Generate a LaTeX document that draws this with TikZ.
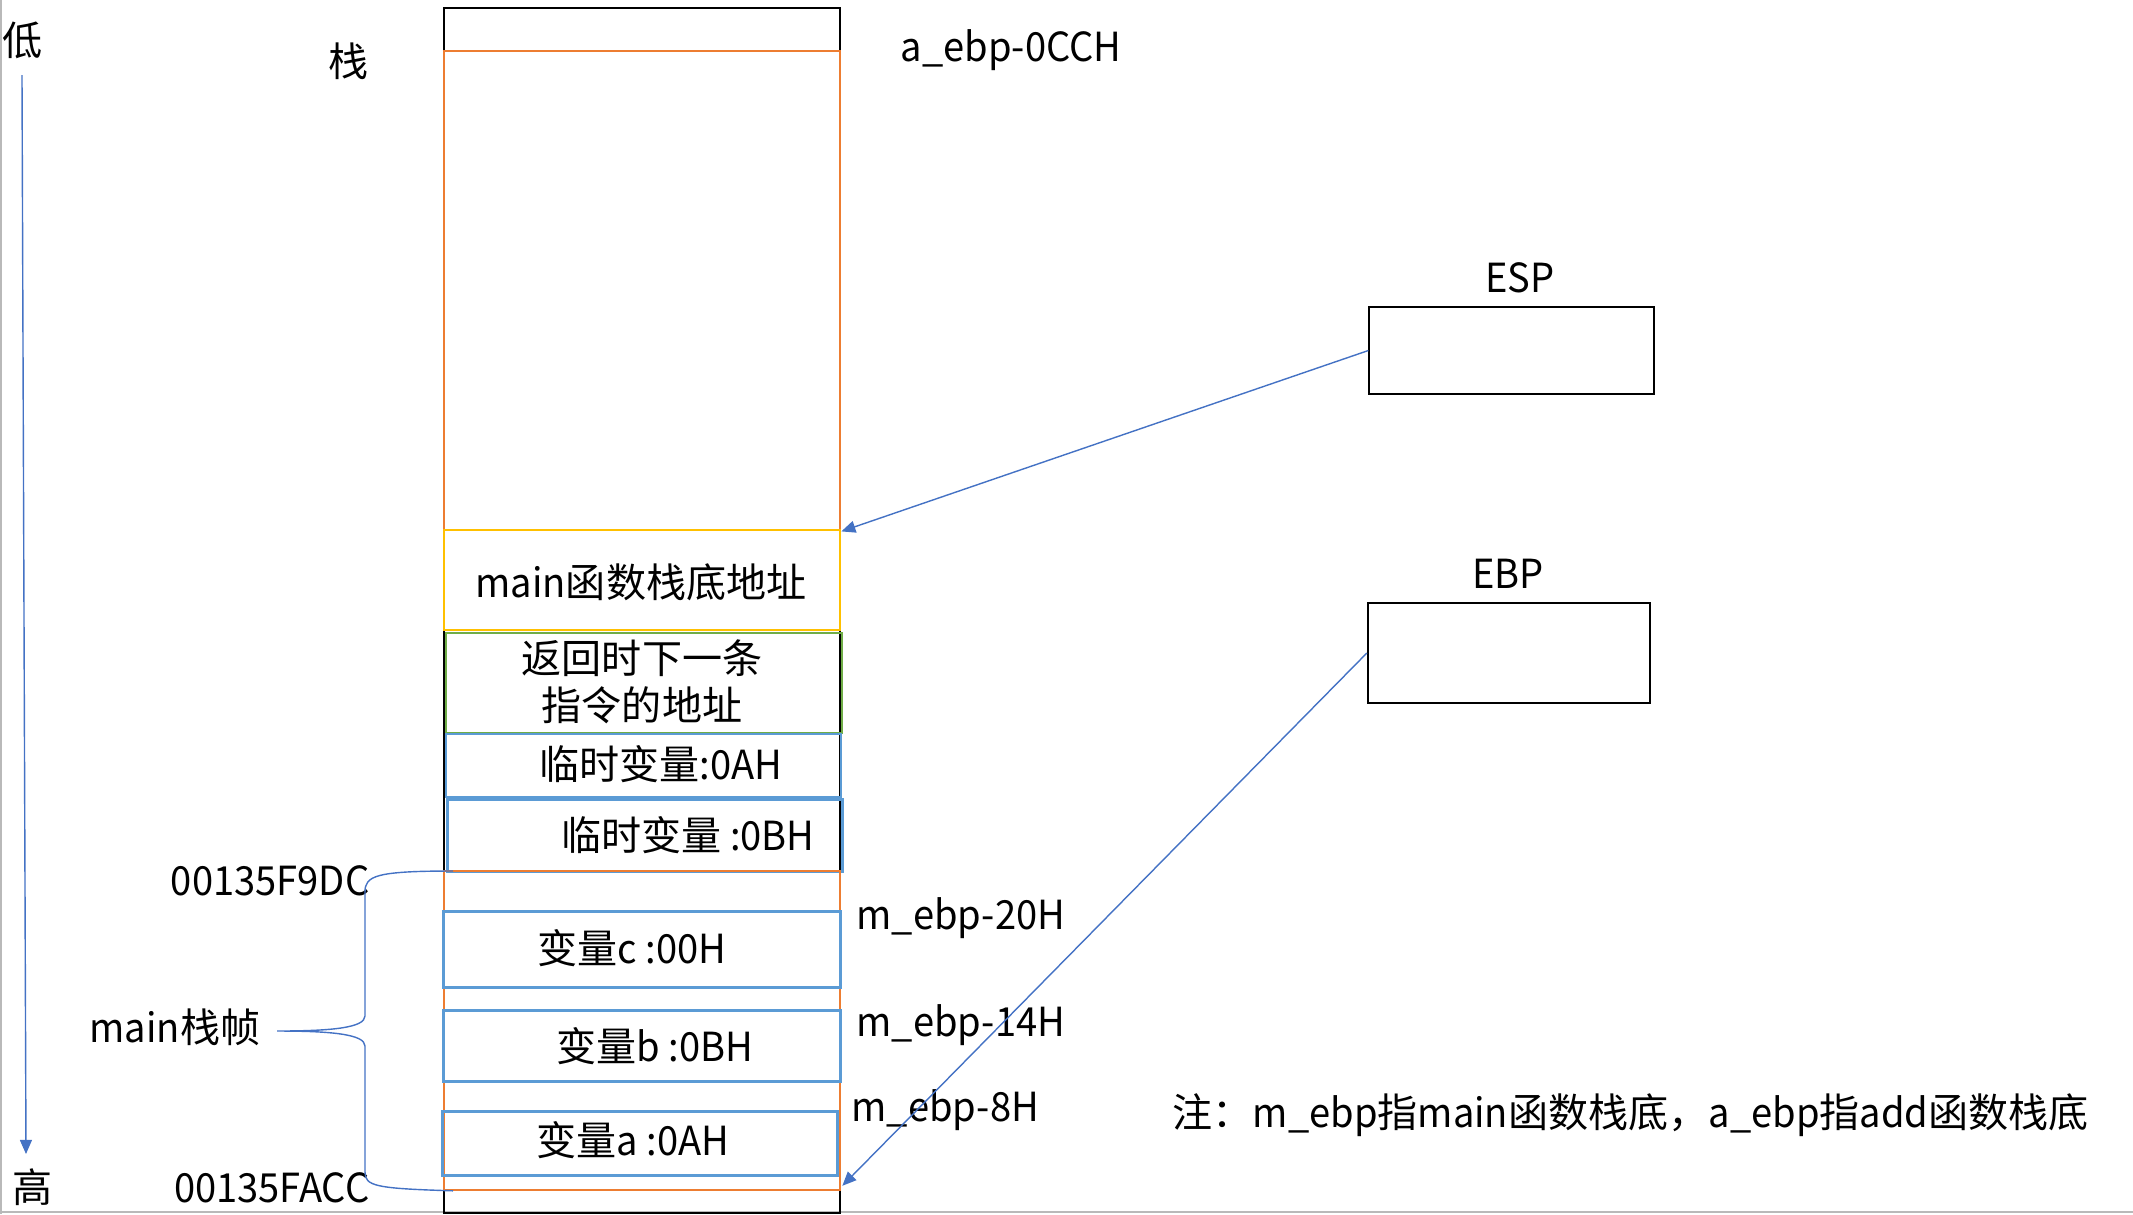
\documentclass[tikz,border=0pt]{standalone}
\usepackage{fontspec}
\setmainfont{Noto Sans CJK SC}
\newfontfamily\latinpart{Noto Sans CJK SC}[FakeStretch=0.95]
\usepackage{xcolor}
\usepackage{tikz}
\usetikzlibrary{positioning,calc,arrows.meta}

\definecolor{frameorange}{RGB}{237,125,49}
\definecolor{baseyellow}{RGB}{255,192,0}
\definecolor{retgreen}{RGB}{112,173,71}
\definecolor{varblue}{RGB}{91,155,213}
\definecolor{linkblue}{RGB}{68,114,196}

\begin{document}
\begin{tikzpicture}[x=0.01cm, y=-0.01cm,
  font=\fontsize{11.4}{13.4}\selectfont,
  cell/.style={draw, line width=0.6pt, inner sep=0pt, anchor=north west},
  ptr/.style={draw=black, line width=0.6pt, minimum width=2.84cm, minimum height=0.87cm},
  link/.style={draw=linkblue, line width=0.4pt, -{Triangle[length=4pt,width=3.4pt]}},
  brace/.style={draw=linkblue, line width=0.4pt},
  txt/.style={inner sep=0pt},
  latin/.style={txt, font=\fontsize{11.4}{13.4}\latinpart}]
  \useasboundingbox (0,0) rectangle (2133,1214);
  \draw[gray!55, line width=0.6pt] (1,0) -- (1,1214) (0,1212) -- (2133,1212);

  % stack column
  \node[cell, draw=black, minimum width=3.96cm, minimum height=12.04cm] (stack) at (443,7) {};
  \node[cell, draw=frameorange, minimum width=3.96cm, minimum height=4.79cm] (addframe) at (443,50) {};
  \node[cell, draw=baseyellow, minimum width=3.96cm, minimum height=1.00cm] (mainbase) at (443,529) {};
  \node[cell, draw=retgreen, minimum width=3.96cm, minimum height=1.00cm] (retaddr) at (445,632) {};
  \node[cell, draw=varblue, line width=0.5pt, minimum width=3.95cm, minimum height=0.63cm] (tmpa) at (445,733) {};
  \node[cell, draw=varblue, line width=0.8pt, minimum width=3.95cm, minimum height=0.72cm] (tmpb) at (446,798) {};
  \node[cell, draw=frameorange, minimum width=3.96cm, minimum height=3.185cm] (mainframe) at (443,870) {};
  \node[cell, draw=varblue, line width=0.8pt, minimum width=3.97cm, minimum height=0.76cm] (varc) at (442,910) {};
  \node[cell, draw=varblue, line width=0.8pt, minimum width=3.97cm, minimum height=0.71cm] (varb) at (442,1009) {};
  \node[cell, draw=varblue, line width=0.8pt, minimum width=3.95cm, minimum height=0.64cm] (vara) at (441,1110) {};

  \node[txt] (basetext) at (641,582) {{\latinpart main}函数栈底地址};
  \node[txt, align=center] (rettext) at (642,682) {返回时下一条\\指令的地址};
  \node[txt] (tmpatext) at (661,764) {临时变量{\latinpart :0AH}};
  \node[txt] (tmpbtext) at (688,835) {临时变量{\latinpart\ :0BH}};
  \node[txt] (varctext) at (632,948) {变量{\latinpart c :00H}};
  \node[txt] (varbtext) at (655,1046) {变量{\latinpart b :0BH}};
  \node[txt] (varatext) at (633,1140) {变量{\latinpart a :0AH}};

  % left side
  \node[txt] (lowlabel) at (23,40) {低};
  \node[txt] (highlabel) at (33,1187) {高};
  \node[txt] (stacktitle) at (349,61) {栈};
  \coordinate (axistop) at (22,75);
  \coordinate (axisbot) at (26,1154);
  \draw[link] (axistop) -- (axisbot);

  \node[latin, anchor=east] (topaddr) at (370,881) {00135F9DC};
  \node[latin, anchor=east] (botaddr) at (370,1188) {00135FACC};
  \node[txt] (framelabel) at (175,1027) {{\latinpart main}栈帧};
  \coordinate (bracetop) at ($(mainframe.north west)+(10,1)$);
  \coordinate (bracebot) at ($(mainframe.south west)+(10,0)$);
  \coordinate (bracetip) at (277,1031);
  \draw[brace] (bracetop) .. controls (375,871) and (365,876) .. (365,892) -- (365,1016)
    .. controls (365,1028) and (330,1031) .. (bracetip)
    .. controls (330,1031) and (365,1034) .. (365,1046) -- (365,1172)
    .. controls (365,1186) and (375,1188.5) .. (bracebot);

  % right side
  \node[latin, anchor=west] (aoffset) at (900,50) {a\_ebp-0CCH};
  \node[latin, anchor=west] (off20) at (856,918) {m\_ebp-20H};
  \node[latin, anchor=west] (off14) at (856,1025) {m\_ebp-14H};
  \node[latin, anchor=west] (off8) at (851,1110) {m\_ebp-8H};
  \node[txt, anchor=west] (note) at (1172,1115)
    {注：{\latinpart m\_ebp}指{\latinpart main}函数栈底，{\latinpart a\_ebp}指{\latinpart add}函数栈底};

  \node[latin] (esplabel) at (1520,278) {ESP};
  \node[ptr] (esp) at (1511.5,350.5) {};
  \node[latin] (ebplabel) at (1508,574) {EBP};
  \node[ptr, minimum width=2.82cm, minimum height=1.00cm] (ebp) at (1509,653) {};

  \draw[link] (esp.west) -- (addframe.south east);
  \draw[link] (ebp.west) -- ($(mainframe.south east)+(1,-5)$);
\end{tikzpicture}
\end{document}
